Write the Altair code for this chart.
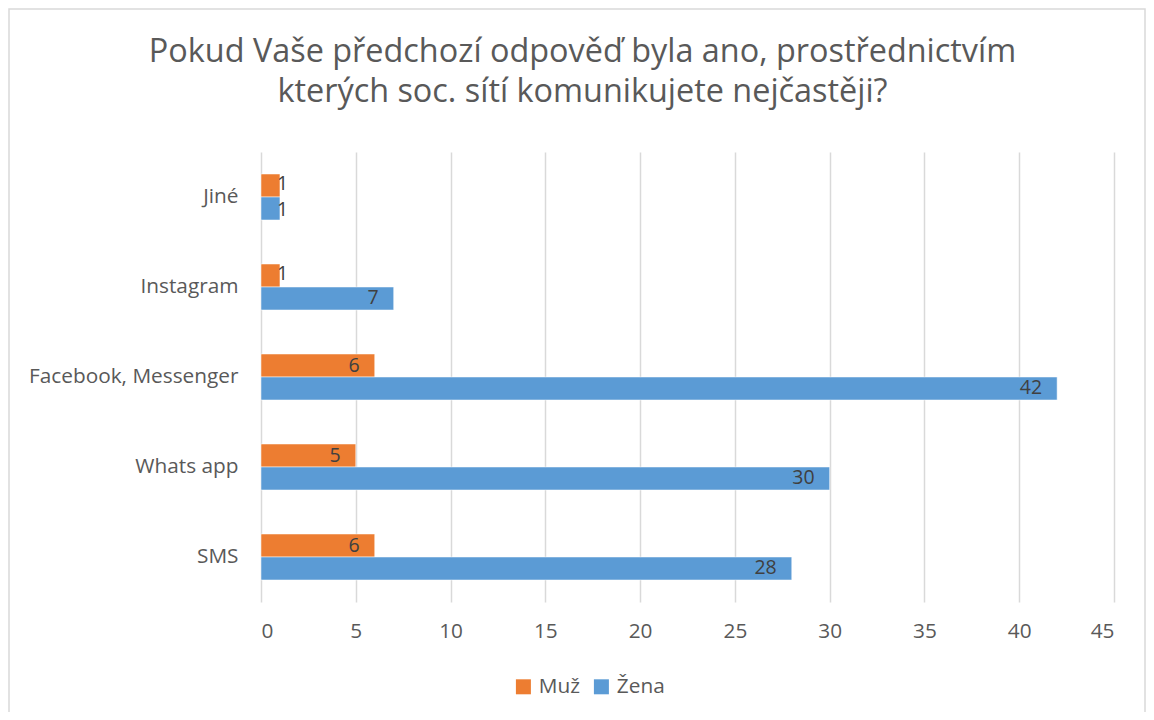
import altair as alt
import pandas as pd

categories = ["Jiné", "Instagram", "Facebook, Messenger", "Whats app", "SMS"]
series = ["Muž", "Žena"]
muz = [1, 1, 6, 5, 6]
zena = [1, 7, 42, 30, 28]
x_ticks = [0, 5, 10, 15, 20, 25, 30, 35, 40, 45]
colors = ["#ED7D31", "#5B9BD5"]
title_lines = ["Pokud Vaše předchozí odpověď byla ano, prostřednictvím",
               "kterých soc. sítí komunikujete nejčastěji?"]

rows = []
for c, m, z in zip(categories, muz, zena):
    rows.append({"cat": c, "pohlavi": "Muž", "val": m})
    rows.append({"cat": c, "pohlavi": "Žena", "val": z})
df = pd.DataFrame(rows)

FONT = "Open Sans"
FS = 20.8
LFS = 19.5
W, H = 853, 450

y_enc = alt.Y("cat:N", sort=categories, title=None,
              scale=alt.Scale(paddingInner=0.489, paddingOuter=0.2445),
              axis=alt.Axis(domain=False, ticks=False, labelPadding=23, labelLimit=400,
                            labelFontSize=FS, labelColor="#595959", labelFont=FONT,
                            grid=False))
yoff = alt.YOffset("pohlavi:N", sort=series)
x_enc = alt.X("val:Q", title=None,
              scale=alt.Scale(domain=[0, 45], nice=False),
              axis=alt.Axis(values=x_ticks, domain=False, ticks=False, labelPadding=19,
                            labelFontSize=FS, labelColor="#595959", labelFont=FONT,
                            grid=True, gridColor="#d9d9d9", gridWidth=1.5))

base = alt.Chart(df)

bars = base.mark_bar(stroke="white", strokeWidth=0.5).encode(
    x=x_enc, y=y_enc, yOffset=yoff,
    color=alt.Color("pohlavi:N", sort=series,
                    scale=alt.Scale(domain=series, range=colors),
                    legend=alt.Legend(title=None, orient="none", direction="horizontal",
                                      legendX=252, legendY=524, symbolType="square",
                                      symbolSize=225, symbolStrokeWidth=0,
                                      labelFontSize=FS, labelColor="#595959",
                                      labelOffset=5,
                                      labelFont=FONT, symbolOpacity=1)),
)

ysub = alt.Y("cat:N", sort=categories)

labels_big = base.transform_filter("datum.val >= 3").mark_text(
    align="right", baseline="middle", dx=-15, fontSize=LFS, color="#404040", font=FONT
).encode(x="val:Q", y=ysub, yOffset=yoff, text="val:Q")

labels_small_m = base.transform_filter("datum.val < 3 && datum.pohlavi == 'Muž'").mark_text(
    align="left", baseline="middle", dx=-3, dy=-2, fontSize=LFS, color="#404040", font=FONT
).encode(x="val:Q", y=ysub, yOffset=yoff, text="val:Q")

labels_small_z = base.transform_filter("datum.val < 3 && datum.pohlavi == 'Žena'").mark_text(
    align="left", baseline="middle", dx=-3, dy=2, fontSize=LFS, color="#404040", font=FONT
).encode(x="val:Q", y=ysub, yOffset=yoff, text="val:Q")

border = alt.Chart(pd.DataFrame({"a": [0]})).mark_rect(
    fill=None, stroke="#d9d9d9", strokeWidth=1.5
).encode(x=alt.value(-252), x2=alt.value(884), y=alt.value(-143), y2=alt.value(600))

chart = alt.layer(border, bars, labels_big, labels_small_m, labels_small_z).properties(
    width=W, height=H,
    autosize=alt.AutoSizeParams(type="none"),
    padding={"left": 253, "top": 144, "right": 32, "bottom": 110},
    title=alt.TitleParams(title_lines, fontSize=32.4, font=FONT, fontWeight="normal",
                          color="#595959", lineHeight=40, anchor="middle",
                          dx=-105, offset=-100),
).configure_view(stroke=None).configure_axisY(grid=False).configure_legend(columnPadding=10)

chart.save("out.html", embed_options={"renderer": "svg", "actions": False})
